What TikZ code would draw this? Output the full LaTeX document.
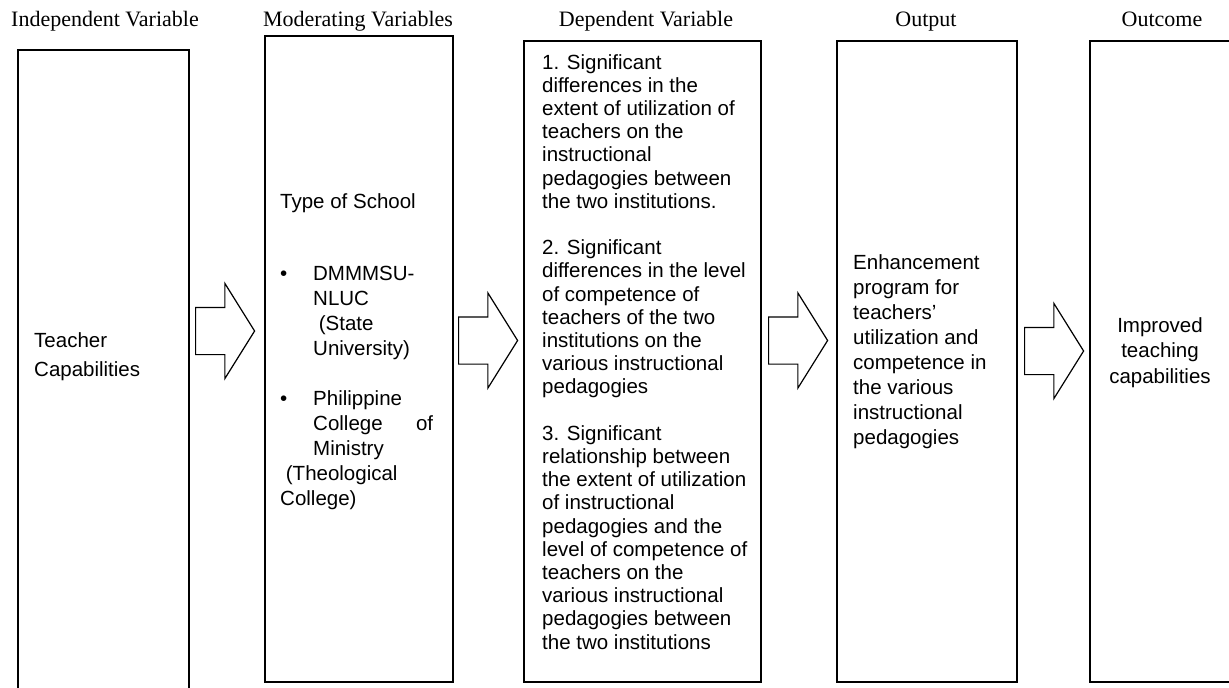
\documentclass[tikz,border=0pt]{standalone}
\usepackage{fontspec}
\setmainfont{Liberation Sans}
\newfontfamily\headfont{Liberation Serif}
\usetikzlibrary{shapes.arrows}

\begin{document}
\begin{tikzpicture}[x=1pt,y=-1pt]
    \tikzstyle{every node}=[inner sep=0pt]
    \tikzstyle{varbox}=[draw, line width=2.4pt, rectangle, anchor=north west]
    \tikzstyle{headlabel}=[font=\headfont\fontsize{22}{24}\selectfont, anchor=base]
    \tikzstyle{boxtext}=[align=left, anchor=north west]
    \tikzstyle{blockarrow}=[draw, line width=1.2pt, single arrow, single arrow head extend=24pt,
      single arrow tip angle=116, minimum height=59pt, inner ysep=23pt, inner xsep=0pt, anchor=tail]
    \clip (0,0) rectangle (1229,688);
    \fill[white] (0,0) rectangle (1229,688);
    % headings
    \foreach \x/\t/\n in {105/Independent Variable/hindep, 358/Moderating Variables/hmoder,
      646/Dependent Variable/hdep, 926/Output/houtp, 1162/Outcome/houtc}
      \node[headlabel] (\n) at (\x,26) {\t};
    % boxes
    \node[varbox, minimum width=171pt, minimum height=660pt] (indep) at (17,49) {};
    \node[varbox, minimum width=188pt, minimum height=646pt] (moder) at (264,35) {};
    \node[varbox, minimum width=237pt, minimum height=641pt] (dep) at (523,40) {};
    \node[varbox, minimum width=180pt, minimum height=641pt] (outp) at (836,40) {};
    \node[varbox, minimum width=145pt, minimum height=641pt] (outc) at (1089,40) {};
    % box texts
    \node[boxtext, font=\fontsize{20.5}{29}\selectfont] (indeptext) at (34,332)
      {Teacher\\Capabilities};
    \node[boxtext, font=\fontsize{20.5}{25}\selectfont] (modertext) at (280,193)
      {Type of School\\[47pt]
       \makebox[33pt][l]{\textbullet}DMMMSU-\\
       \hspace*{33pt}NLUC\\
       \hspace*{33pt}\ (State\\
       \hspace*{33pt}University)\\[25pt]
       \makebox[33pt][l]{\textbullet}Philippine\\
       \hspace*{33pt}\makebox[120pt][s]{College\hfill of}\\
       \hspace*{33pt}Ministry\\
       \ (Theological\\
       College)};
    \node[boxtext, font=\fontsize{20.5}{23.2}\selectfont] (deptext) at (542,54)
      {1. Significant\\
       differences in the\\
       extent of utilization of\\
       teachers on the\\
       instructional\\
       pedagogies between\\
       the two institutions.\\[23.2pt]
       2. Significant\\
       differences in the level\\
       of competence of\\
       teachers of the two\\
       institutions on the\\
       various instructional\\
       pedagogies\\[23.2pt]
       3. Significant\\
       relationship between\\
       the extent of utilization\\
       of instructional\\
       pedagogies and the\\
       level of competence of\\
       teachers on the\\
       various instructional\\
       pedagogies between\\
       the two institutions};
    \node[boxtext, font=\fontsize{20.5}{25}\selectfont] (outptext) at (853,254)
      {Enhancement\\program for\\teachers'\\utilization and\\competence in\\the various\\instructional\\pedagogies};
    \node[boxtext, align=center, anchor=north, font=\fontsize{20.5}{25.5}\selectfont] (outctext) at (1160,317)
      {Improved\\teaching\\capabilities};
    % block arrows
    \foreach \x/\y/\n in {195/331/arrA, 458/340.5/arrB, 768/340.5/arrC, 1024/351/arrD}
      \node[blockarrow] (\n) at (\x,\y) {};
\end{tikzpicture}
\end{document}
